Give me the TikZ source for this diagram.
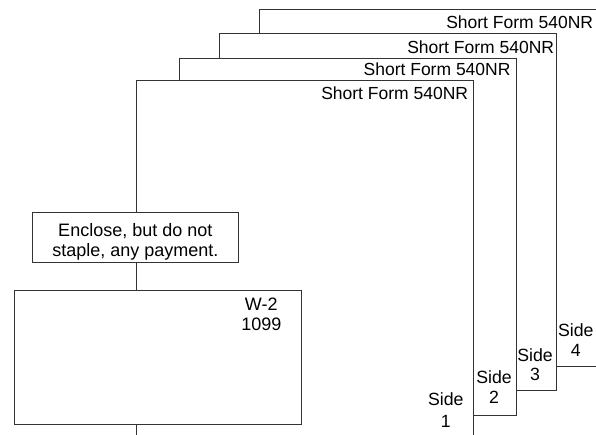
\documentclass[tikz,border=0pt]{standalone}
\usepackage{fontspec}
\setmainfont{Liberation Sans}
\begin{document}
\begin{tikzpicture}[x=1pt,y=1pt,
  line/.style={draw=black!80, line width=1pt},
  page/.style={line, fill=white, minimum width=337pt, minimum height=357pt, inner sep=0pt, outer sep=0pt, anchor=north west},
  formlabel/.style={anchor=base east, font=\fontsize{17.5}{20}\selectfont, inner sep=0pt},
  sidetext/.style={anchor=base, font=\fontsize{17.7}{20}\selectfont, inner sep=0pt},
  boxtext/.style={anchor=base, font=\fontsize{18}{20}\selectfont, inner sep=0pt},
  box/.style={line, fill=white, inner sep=0pt, outer sep=0pt, anchor=north west}
]
\useasboundingbox (0,0) rectangle (596,-435);

% stacked pages, back to front
\node[page] (p4) at (259.7,-9.3) {};
\node[formlabel] (l4) at (593.3,-28.3) {Short Form 540NR};
\node[page] (p3) at (219.3,-33.3) {};
\node[formlabel] (l3) at (554.3,-53.3) {Short Form 540NR};
\node[page] (p2) at (179.3,-58.3) {};
\node[formlabel] (l2) at (510.7,-76) {Short Form 540NR};
\node[page] (p1) at (136.7,-81) {};
\node[formlabel] (l1) at (468.3,-100) {Short Form 540NR};

% side labels
\node[sidetext] (s1a) at (445.8,-405.7) {Side};
\node[sidetext] (s1b) at (445.8,-427.3) {1};
\node[sidetext] (s2a) at (494,-383.3) {Side};
\node[sidetext] (s2b) at (494,-403.3) {2};
\node[sidetext] (s3a) at (535,-361) {Side};
\node[sidetext] (s3b) at (535,-380.7) {3};
\node[sidetext] (s4a) at (575.8,-336.7) {Side};
\node[sidetext] (s4b) at (575.8,-356.7) {4};

% enclosure box
\node[box, minimum width=206pt, minimum height=50.3pt] (enc) at (32.3,-212.7) {};
\node[boxtext] (enca) at (135.3,-236.7) {Enclose, but do not};
\node[boxtext] (encb) at (135.3,-256.7) {staple, any payment.};

% W-2 / 1099 box
\node[box, minimum width=287pt, minimum height=134.3pt] (w2) at (14,-290) {};
\node[boxtext] (w2a) at (261.3,-310) {W-2};
\node[boxtext] (w2b) at (261.3,-330) {1099};

% connectors along the spine
\draw[line] (p1.north west) -- (enc.north -| p1.west);
\draw[line] (enc.south -| p1.west) -- (w2.north -| p1.west);
\draw[line] (w2.south -| p1.west) -- (p1.south west);
\end{tikzpicture}
\end{document}
